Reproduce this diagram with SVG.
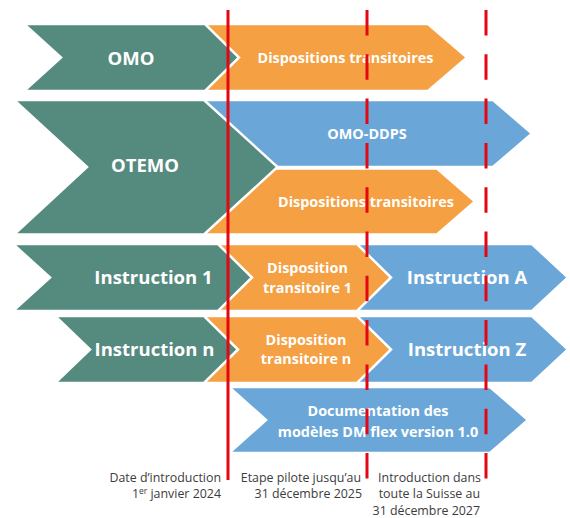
<svg xmlns="http://www.w3.org/2000/svg" width="570" height="518" viewBox="0 0 570 518">
<style>
.g{fill:#558A7E;stroke:#fff;stroke-width:2.5;stroke-linejoin:miter}
.o{fill:#F4A043;stroke:#fff;stroke-width:2.5}
.b{fill:#6AA7D8;stroke:#fff;stroke-width:2.5}
.tl{font-family:"Open Sans","Noto Sans",sans-serif;font-weight:bold;fill:#fff;text-anchor:middle}
.big{font-size:18.5px}
.sm{font-size:14.4px}
.lab{font-family:"Open Sans","Noto Sans",sans-serif;font-size:12.4px;fill:#3c3c3c;text-anchor:end}
.red{stroke:#E30613;stroke-width:3;fill:none}
.dash{stroke-dasharray:25.5 18.8}
</style>
<rect width="570" height="518" fill="#fff"/>
<g id="row1-trans">
<polygon class="o" points="200,24 428,24 467,57.5 428,91 200,91"/>
<text class="tl sm" x="345.5" y="63">Dispositions transitoires</text>
</g>
<g id="omo">
<polygon class="g" points="24,24 205,24 239,57.5 205,91 24,91 61,57.5"/>
<text class="tl big" x="131" y="65">OMO</text>
</g>
<g id="omo-ddps">
<polygon class="b" points="200,100 493,100 532,133.5 493,167 200,167"/>
<text class="tl sm" x="367" y="139">OMO-DDPS</text>
</g>
<g id="row2-trans">
<polygon class="o" points="200,168.5 437,168.5 475,201.5 437,234.5 200,234.5"/>
<text class="tl sm" x="366" y="206.5">Dispositions transitoires</text>
</g>
<g id="otemo">
<polygon class="g" points="14,100 204,100 277.5,167 204,234.5 14,234.5 87,167"/>
<text class="tl big" x="145" y="172">OTEMO</text>
</g>
<g id="instruction-a">
<polygon class="b" points="340,244 532,244 568,277.5 532,311 340,311"/>
<text class="tl big" x="467" y="284">Instruction A</text>
</g>
<g id="disp-1">
<polygon class="o" points="210,244 357,244 391,277.5 357,311 210,311"/>
<text class="tl sm" x="307.5" y="273">Disposition</text>
<text class="tl sm" x="307.5" y="293">transitoire 1</text>
</g>
<g id="instruction-1">
<polygon class="g" points="13,244 218,244 252,277.5 218,311 13,311 50,277.5"/>
<text class="tl big" x="153.5" y="284">Instruction 1</text>
</g>
<g id="instruction-z">
<polygon class="b" points="340,316 532,316 568,349.5 532,383 340,383"/>
<text class="tl big" x="467" y="356">Instruction Z</text>
</g>
<g id="disp-n">
<polygon class="o" points="200,316 357,316 391,349.5 357,383 200,383"/>
<text class="tl sm" x="306" y="345">Disposition</text>
<text class="tl sm" x="306" y="364">transitoire n</text>
</g>
<g id="instruction-n">
<polygon class="g" points="55,316 204,316 238,349.5 204,383 55,383 90,349.5"/>
<text class="tl big" x="154.5" y="356">Instruction n</text>
</g>
<g id="documentation">
<polygon class="b" points="229,387 490,387 528,420 490,453 229,453 266,420"/>
<text class="tl sm" x="378" y="416">Documentation des</text>
<text class="tl sm" x="378" y="437">modèles DM flex version 1.0</text>
</g>
<g id="timeline">
<line class="red" x1="228" y1="10" x2="228" y2="480"/>
<line class="red dash" x1="367" y1="10" x2="367" y2="480"/>
<line class="red dash" x1="486" y1="10" x2="486" y2="480"/>
</g>
<g id="labels">
<text class="lab" x="221" y="482">Date d’introduction</text>
<text class="lab" x="221" y="498">1<tspan font-size="8.5" dy="-4">er</tspan><tspan dy="4"> janvier 2024</tspan></text>
<text class="lab" x="361" y="482">Etape pilote jusqu’au</text>
<text class="lab" x="362" y="498">31 décembre 2025</text>
<text class="lab" x="481" y="482">Introduction dans</text>
<text class="lab" x="480" y="498">toute la Suisse au</text>
<text class="lab" x="480" y="515">31 décembre 2027</text>
</g>
</svg>
